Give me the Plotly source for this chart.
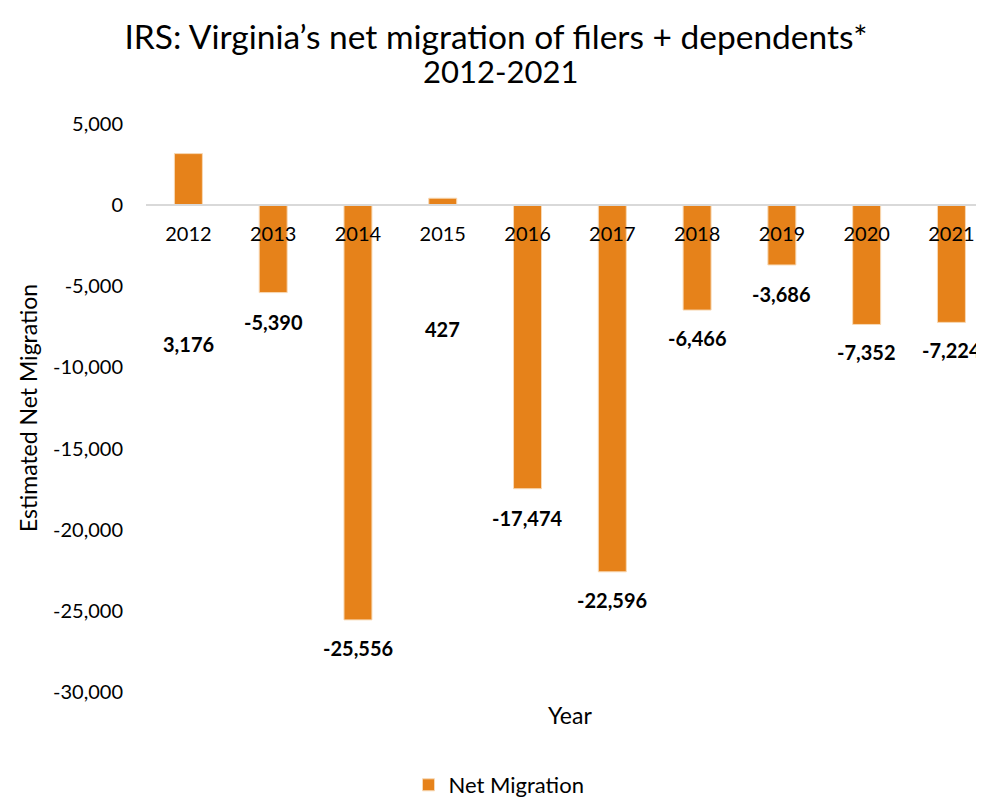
import plotly.graph_objects as go

years = ["2012", "2013", "2014", "2015", "2016", "2017", "2018", "2019", "2020", "2021"]
net_migration = [3176, -5390, -25556, 427, -17474, -22596, -6466, -3686, -7352, -7224]
label_texts = ["3,176", "-5,390", "-25,556", "427", "-17,474", "-22,596", "-6,466", "-3,686", "-7,352", "-7,224"]
y_ticks = [5000, 0, -5000, -10000, -15000, -20000, -25000, -30000]
y_tick_text = ["5,000", "0", "-5,000", "-10,000", "-15,000", "-20,000", "-25,000", "-30,000"]
# pixel offsets of the data labels from bar ends (style)
label_shift = [-190, -29, -28, -131, -29, -28, -28, -29, -28, -28]

FONT = "Lato, Carlito, Calibri, sans-serif"
ORANGE = "#E6821A"

W, H = 976, 798
L, T, B = 138, 116, 114
plot_w = W - L
plot_h = H - T - B

fig = go.Figure()
fig.add_trace(go.Bar(
    x=list(range(len(years))), y=net_migration, name="Net Migration",
    marker=dict(color=ORANGE, line=dict(color="#F8D9B5", width=1)),
    width=0.33, showlegend=True,
))

for i, (v, t, s) in enumerate(zip(net_migration, label_texts, label_shift)):
    fig.add_annotation(x=i, y=v, text=f"<b>{t}</b>", showarrow=False,
                       yshift=s, yanchor="middle",
                       font=dict(family=FONT, size=20, color="#000000"))

# second title line
fig.add_annotation(xref="paper", yref="paper", x=(492 - L) / plot_w,
                   y=1 + (T - 63) / plot_h, yanchor="middle",
                   text="2012-2021", showarrow=False,
                   font=dict(family=FONT, size=31, color="#000000"))
fig.add_annotation(xref="paper", yref="paper", x=(562 - L) / plot_w, y=-0.0124,
                   text="Year", showarrow=False, yanchor="top",
                   font=dict(family=FONT, size=23, color="#000000"))
fig.add_annotation(xref="paper", yref="paper", x=(20 - L) / plot_w, y=0.5,
                   text="Estimated Net Migration", textangle=-90,
                   showarrow=False, xanchor="center",
                   font=dict(family=FONT, size=23, color="#000000"))

fig.update_layout(
    width=W, height=H,
    paper_bgcolor="white", plot_bgcolor="white",
    margin=dict(l=L, r=0, t=T, b=B),
    title=dict(text="IRS: Virginia’s net migration of filers + dependents*",
               x=0.5, xanchor="center", yref="container", y=1 - 29 / H,
               yanchor="middle",
               font=dict(family=FONT, size=33.5, color="#000000")),
    font=dict(family=FONT, color="#000000"),
    legend=dict(orientation="h", x=(491 - L) / plot_w, xanchor="center",
                yref="container", y=0.0, yanchor="bottom",
                font=dict(family=FONT, size=22, color="#000000")),
    xaxis=dict(range=[-0.5, 9.384], anchor="free", automargin=False,
               tickvals=list(range(len(years))), ticktext=years,
               position=30000 / 35000, showline=True, linecolor="#D9D9D9",
               linewidth=1.5, showgrid=False, ticks="", ticklabelstandoff=11,
               tickfont=dict(family=FONT, size=20, color="#000000"),
               zeroline=False),
    yaxis=dict(range=[-30000, 5000], tickvals=y_ticks, ticktext=y_tick_text,
               showgrid=False, zeroline=False, showline=False, ticks="",
               automargin=False, ticklabelstandoff=22,
               tickfont=dict(family=FONT, size=20, color="#000000")),
)

fig.write_html("out.html")
